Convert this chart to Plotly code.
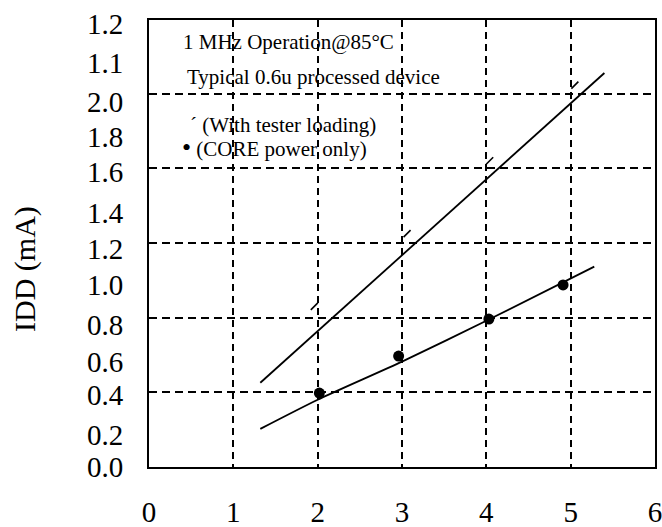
import plotly.graph_objects as go

# Data
tester_line_x = [1.32, 5.40]
tester_line_y = [0.451, 2.11]
tester_pts_x = [1.96, 3.06, 4.04, 5.05]
tester_pts_y = [0.86, 1.25, 1.64, 2.045]

core_line_x = [1.32, 2.0, 3.0, 4.0, 5.28]
core_line_y = [0.204, 0.36, 0.564, 0.783, 1.073]
core_pts_x = [2.02, 2.96, 4.03, 4.91]
core_pts_y = [0.396, 0.594, 0.792, 0.975]

x_ticks = [0, 1, 2, 3, 4, 5, 6]
x_labels = ["0", "1", "2", "3", "4", "5", "6"]
y_tick_pos = [2.372, 2.163, 1.954, 1.767, 1.58, 1.36, 1.167, 0.975, 0.76, 0.562, 0.386, 0.171, 0.0]
y_tick_labels = ["1.2", "1.1", "2.0", "1.8", "1.6", "1.4", "1.2", "1.0", "0.8", "0.6", "0.4", "0.2", "0.0"]
y_grid = [0.4, 0.8, 1.2, 1.6, 2.0]

FONT = "Liberation Serif"

fig = go.Figure()
fig.add_trace(go.Scatter(x=tester_line_x, y=tester_line_y, mode="lines",
                         line=dict(color="black", width=1.8), showlegend=False))
fig.add_trace(go.Scatter(x=tester_pts_x, y=tester_pts_y, mode="markers",
                         marker=dict(symbol="line-ne", size=7, line=dict(color="black", width=1.6)),
                         showlegend=False))
fig.add_trace(go.Scatter(x=core_line_x, y=core_line_y, mode="lines",
                         line=dict(color="black", width=1.8, shape="spline", smoothing=0.6),
                         showlegend=False))
fig.add_trace(go.Scatter(x=core_pts_x, y=core_pts_y, mode="markers",
                         marker=dict(symbol="circle", size=11, color="black"),
                         showlegend=False))

fig.update_layout(
    width=662, height=527,
    margin=dict(l=149, r=7, t=20, b=60),
    paper_bgcolor="white", plot_bgcolor="white",
    font=dict(family=FONT, color="black"),
    xaxis=dict(range=[0, 6], tickmode="array", tickvals=x_ticks, ticktext=x_labels,
               showgrid=True, gridcolor="black", griddash="7px,5px", gridwidth=2,
               showline=True, linecolor="black", linewidth=2, mirror=True,
               zeroline=False, ticks="", ticklabelstandoff=18, automargin=False,
               ticklabeloverflow="allow",
               tickfont=dict(family=FONT, size=29, color="black")),
    yaxis=dict(range=[0, 2.394], tickmode="array", tickvals=y_tick_pos, ticktext=y_tick_labels,
               showgrid=False, zeroline=False,
               showline=True, linecolor="black", linewidth=2, mirror=True,
               ticks="", ticklabelstandoff=18, automargin=False,
               ticklabeloverflow="allow",
               tickfont=dict(family=FONT, size=29, color="black"),
               minor=dict(tickmode="array", tickvals=y_grid, showgrid=True,
                          gridcolor="black", griddash="8px,5px", gridwidth=2, ticks="")),
)

ann_font = dict(family=FONT, size=21, color="black")
fig.add_annotation(x=0.38, y=2.276, xref="x", yref="y", text="1 MHz Operation@85°C",
                   showarrow=False, xanchor="left", yanchor="middle", font=ann_font)
fig.add_annotation(x=0.43, y=2.088, xref="x", yref="y", text="Typical 0.6u processed device",
                   showarrow=False, xanchor="left", yanchor="middle", font=ann_font)
fig.add_annotation(x=0.46, y=1.831, xref="x", yref="y", text="´ (With tester loading)",
                   showarrow=False, xanchor="left", yanchor="middle", font=ann_font)
fig.add_annotation(x=0.37, y=1.713, xref="x", yref="y", text="<span style='font-size:26px'>•</span> (CORE power only)",
                   showarrow=False, xanchor="left", yanchor="middle", font=ann_font)
fig.add_annotation(x=-0.245, y=0.443, xref="paper", yref="paper", text="IDD (mA)",
                   textangle=-90, showarrow=False, xanchor="center", yanchor="middle",
                   font=dict(family=FONT, size=30, color="black"))

fig.write_html("out.html", config={"displayModeBar": False},
               post_script="document.body.style.margin='0';")
